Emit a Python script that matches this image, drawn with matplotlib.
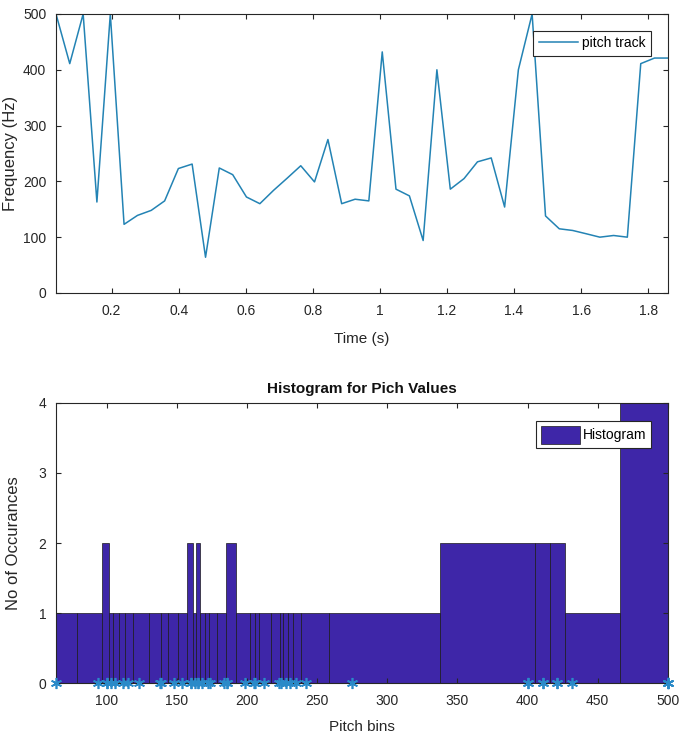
import matplotlib
matplotlib.use("Agg")
import matplotlib.pyplot as plt
import numpy as np

# pitch track (one value per analysis frame)
time_s = [0.034, 0.075, 0.115, 0.156, 0.196, 0.237, 0.277, 0.318, 0.358, 0.399,
          0.440, 0.480, 0.521, 0.561, 0.602, 0.642, 0.683, 0.724, 0.764, 0.805,
          0.845, 0.886, 0.926, 0.967, 1.007, 1.048, 1.088, 1.129, 1.170, 1.210,
          1.251, 1.291, 1.332, 1.372, 1.413, 1.454, 1.494, 1.535, 1.575, 1.616,
          1.656, 1.697, 1.738, 1.778, 1.819, 1.859]
pitch_hz = [500, 411, 500, 163, 500, 123, 139, 148, 165, 223,
            231, 64, 224, 212, 172, 160, 184, 206, 228, 199,
            275, 160, 168, 165, 432, 186, 174, 94, 400, 186,
            205, 235, 242, 154, 400, 500, 138, 115, 112, 106,
            100, 103, 100, 411, 421, 421]

line_col = '#2383b4'
hist_col = '#3e26a8'
axis_col = '#262626'

plt.rcParams['font.family'] = ['Liberation Sans Narrow', 'Liberation Sans', 'DejaVu Sans']
plt.rcParams['xtick.direction'] = 'in'
plt.rcParams['ytick.direction'] = 'in'
plt.rcParams['xtick.top'] = True
plt.rcParams['ytick.right'] = True
plt.rcParams['xtick.labelsize'] = 10
plt.rcParams['ytick.labelsize'] = 10
plt.rcParams['xtick.major.pad'] = 8
plt.rcParams['ytick.major.pad'] = 7
plt.rcParams['xtick.color'] = axis_col
plt.rcParams['ytick.color'] = axis_col
plt.rcParams['axes.edgecolor'] = axis_col

fig = plt.figure(figsize=(6.93, 7.43), dpi=100)

# top: pitch track
ax1 = fig.add_axes([0.0808, 0.6057, 0.883, 0.3755])
ax1.plot(time_s, pitch_hz, color=line_col, linewidth=1.1, label='pitch track')
ax1.set_xlim(min(time_s), max(time_s))
ax1.set_ylim(0, 500)
ax1.set_xticks([0.2, 0.4, 0.6, 0.8, 1, 1.2, 1.4, 1.6, 1.8])
ax1.set_xticklabels(['0.2', '0.4', '0.6', '0.8', '1', '1.2', '1.4', '1.6', '1.8'])
ax1.set_yticks([0, 100, 200, 300, 400, 500])
ax1.set_xlabel('Time (s)', fontsize=11, color=axis_col, labelpad=10)
ax1.set_ylabel('Frequency (Hz)', fontsize=12, color=axis_col,
               family=['Liberation Sans', 'DejaVu Sans'])
ax1.yaxis.set_label_coords(-0.062, 0.5)
leg1 = ax1.legend(loc='upper right', bbox_to_anchor=(0.984, 0.965), fontsize=10,
                  frameon=True, fancybox=False, edgecolor=axis_col, framealpha=1,
                  handlelength=2.8, borderpad=0.4, handletextpad=0.3)
leg1.get_frame().set_linewidth(0.8)

# bottom: histogram with the sorted pitch values as bin centres
centres, counts = np.unique(pitch_hz, return_counts=True)
mids = (centres[:-1] + centres[1:]) / 2
left = np.concatenate([[centres[0] - (centres[1] - centres[0]) / 2], mids])
right = np.concatenate([mids, [centres[-1] + (centres[-1] - centres[-2]) / 2]])

ax2 = fig.add_axes([0.0808, 0.0803, 0.883, 0.3777])
ax2.bar(left, counts, width=right - left, align='edge', color=hist_col,
        edgecolor='#1a1a1a', linewidth=0.5, label='Histogram')
ax2.plot(pitch_hz, np.zeros(len(pitch_hz)), linestyle='none', marker=(6, 2, 0),
         color='#2a8ac8', markersize=8, markeredgewidth=1.2, clip_on=False,
         zorder=5)
ax2.set_xlim(min(pitch_hz), max(pitch_hz))
ax2.set_ylim(0, 4)
ax2.set_xticks([100, 150, 200, 250, 300, 350, 400, 450, 500])
ax2.set_yticks([0, 1, 2, 3, 4])
ax2.set_xlabel('Pitch bins', fontsize=11, color=axis_col, labelpad=8)
ax2.set_ylabel('No of Occurances', fontsize=12, color=axis_col,
               family=['Liberation Sans', 'DejaVu Sans'])
ax2.yaxis.set_label_coords(-0.058, 0.5)
ax2.set_title('Histogram for Pich Values', fontsize=11, fontweight='bold',
              color='#111111', pad=7)
leg2 = ax2.legend(loc='upper right', bbox_to_anchor=(0.984, 0.96), fontsize=10,
                  frameon=True, fancybox=False, edgecolor=axis_col, framealpha=1,
                  handlelength=2.8, handleheight=1.6, borderpad=0.35,
                  handletextpad=0.2)
leg2.get_frame().set_linewidth(0.8)

fig.savefig('out.png', dpi=100)
